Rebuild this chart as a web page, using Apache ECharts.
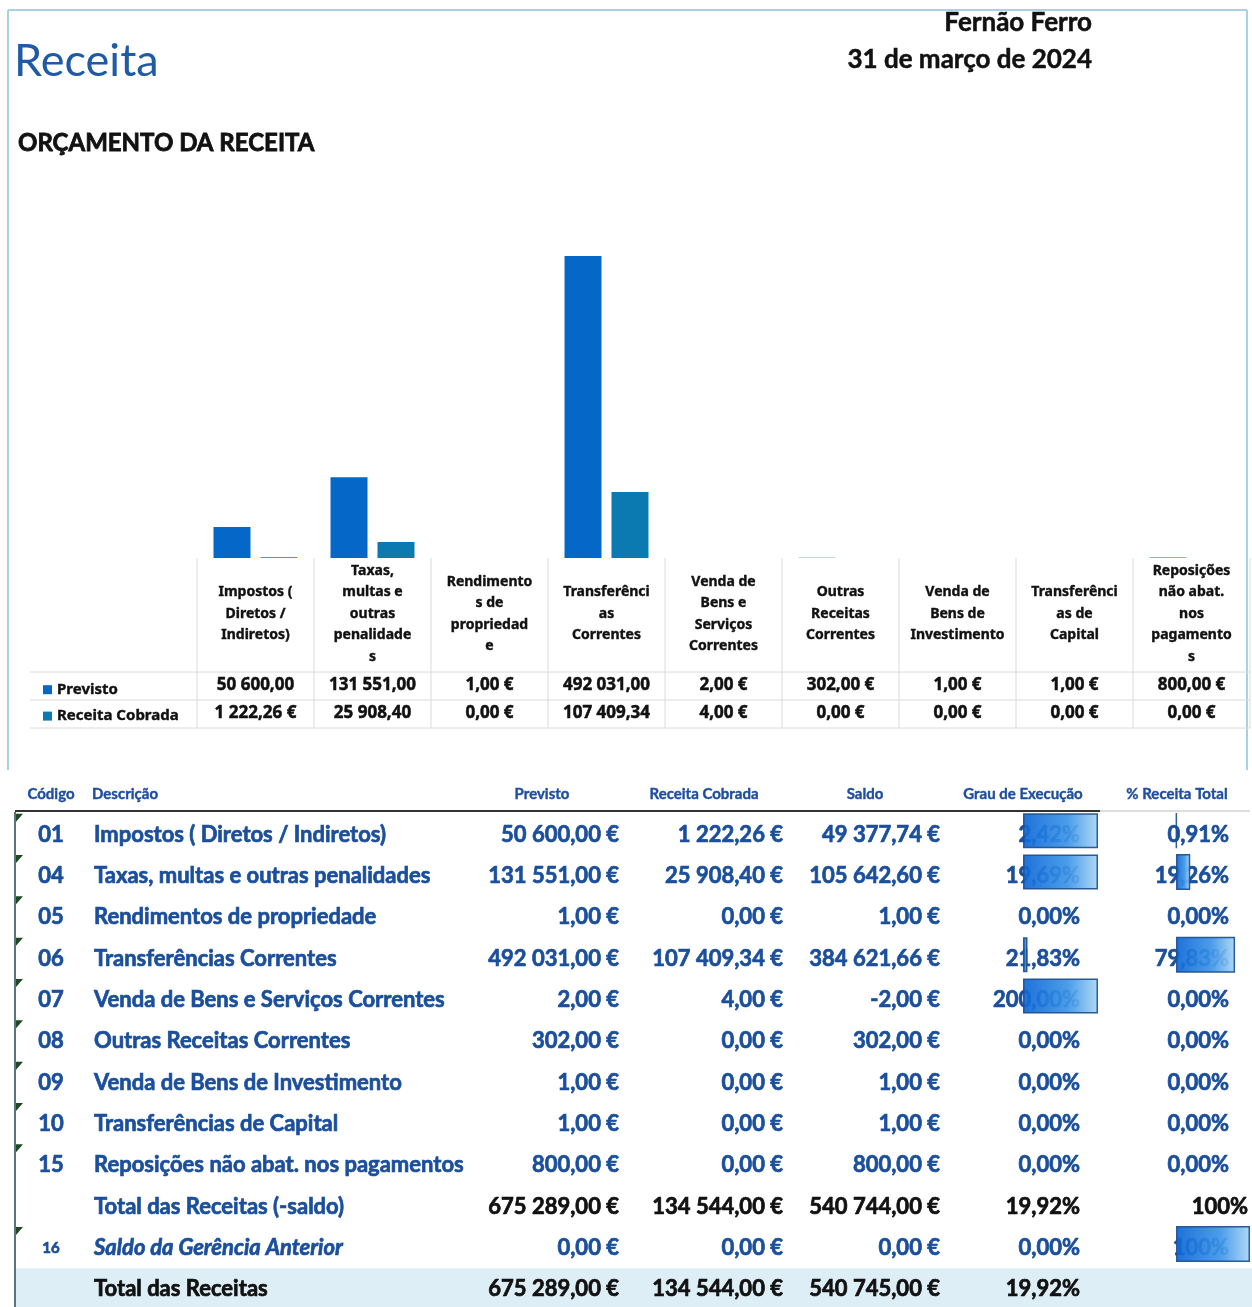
<!DOCTYPE html>
<html>
<head>
<meta charset="utf-8">
<title>Receita</title>
<script src="https://cdn.jsdelivr.net/npm/echarts@6/dist/echarts.min.js"></script>
<style>
  html, body { margin: 0; padding: 0; background: #fff; }
  #main { width: 1252px; height: 1307px; }
</style>
</head>
<body>
<div id="main"></div>
<script>
const categories = [
  "Impostos ( Diretos / Indiretos)",
  "Taxas, multas e outras penalidades",
  "Rendimentos de propriedade",
  "Transferências Correntes",
  "Venda de Bens e Serviços Correntes",
  "Outras Receitas Correntes",
  "Venda de Bens de Investimento",
  "Transferências de Capital",
  "Reposições não abat. nos pagamentos",
];
// how the category names wrap in the chart's data table
const categoryLabels = [
  "Impostos (\nDiretos /\nIndiretos)",
  "Taxas,\nmultas e\noutras\npenalidade\ns",
  "Rendimento\ns de\npropriedad\ne",
  "Transferênci\nas\nCorrentes",
  "Venda de\nBens e\nServiços\nCorrentes",
  "Outras\nReceitas\nCorrentes",
  "Venda de\nBens de\nInvestimento",
  "Transferênci\nas de\nCapital",
  "Reposições\nnão abat.\nnos\npagamento\ns",
];
const codes = ["01", "04", "05", "06", "07", "08", "09", "10", "15"];
const previsto = [50600, 131551, 1, 492031, 2, 302, 1, 1, 800];
const cobrada = [1222.26, 25908.4, 0, 107409.34, 4, 0, 0, 0, 0];
const saldo = [49377.74, 105642.6, 1, 384621.66, -2, 302, 1, 1, 800];
const grau = [2.42, 19.69, 0, 21.83, 200, 0, 0, 0, 0];
const pctTotal = [0.91, 19.26, 0, 79.83, 0, 0, 0, 0, 0];
// share of the "Grau de Execução" cell that the data bar fills, as seen in the picture
const grauBarFill = [1, 1, 0, 0.06, 1, 0, 0, 0, 0];

const totalLabels = ["Total das Receitas (-saldo)", "Saldo da Gerência Anterior", "Total das Receitas"];
const totalCodes = ["", "16", ""];
const totalPrevisto = [675289, 0, 675289];
const totalCobrada = [134544, 0, 134544];
const totalSaldo = [540744, 0, 540745];
const totalGrau = [19.92, 0, 19.92];
const totalPct = [100, 100, null];
const totalPctBar = [null, 100, null];

const columnHeaders = ["Código", "Descrição", "Previsto", "Receita Cobrada", "Saldo", "Grau de Execução", "% Receita Total"];

const chartFont = "Noto Sans";
const tableFont = "Lato";
const blue = "#1B4F9C";

function fmtNum(v) {
  const neg = v < 0;
  const parts = Math.abs(v).toFixed(2).split(".");
  const grouped = parts[0].replace(/\B(?=(\d{3})+(?!\d))/g, " ");
  return (neg ? "-" : "") + grouped + "," + parts[1];
}
const fmtEur = (v) => fmtNum(v) + " €";
// the chart's data table drops the € sign when the cell is too narrow
const fmtCell = (v) => (fmtEur(v).length > 10 ? fmtNum(v) : fmtEur(v));
const fmtPct = (v) => (v === 100 ? "100%" : v.toFixed(2).replace(".", ",") + "%");

// rows of the lower table
const rowKind = categories.map(() => "item").concat(["subtotal", "saldo", "total"]);
const rowCodes = codes.concat(totalCodes);
const rowDesc = categories.concat(totalLabels);
const rowPrevisto = previsto.concat(totalPrevisto);
const rowCobrada = cobrada.concat(totalCobrada);
const rowSaldo = saldo.concat(totalSaldo);
const rowGrau = grau.concat(totalGrau);
const rowPct = pctTotal.concat(totalPct);
const rowGrauBar = grauBarFill.map((v) => (v > 0 ? v : "-")).concat(["-", "-", "-"]);
const rowPctBar = pctTotal.map((v) => (v > 0 ? v : "-")).concat(totalPctBar.map((v) => (v == null ? "-" : v)));
const rowKeys = rowDesc.map((d, i) => String(i));

const myChart = echarts.init(document.getElementById("main"));

const valueAxis = (data, margin) => ({
  gridIndex: 0,
  type: "category",
  data: data,
  position: "bottom",
  axisLine: { show: false },
  axisTick: { show: false },
  axisLabel: {
    interval: 0,
    margin: margin,
    verticalAlign: "middle",
    fontFamily: chartFont,
    fontWeight: "bold",
    fontSize: 17,
    color: "#111",
    textBorderColor: "#111",
    textBorderWidth: 0.5,
  },
});

const barGradient = new echarts.graphic.LinearGradient(0, 0, 1, 0, [
  { offset: 0, color: "#0C66D6" },
  { offset: 0.6, color: "#3C95E8" },
  { offset: 1, color: "#A9D6F6" },
]);

const options = {
  animation: false,
  grid: [
    { left: 197, right: 2, top: 251, height: 307, outerBoundsMode: "none" },
    { left: 0, width: 1252, top: 814, height: 496, outerBoundsMode: "none" },
    { left: 1023, width: 75, top: 810, height: 496, outerBoundsMode: "none" },
    { left: 1176, width: 74, top: 810, height: 496, outerBoundsMode: "none" },
  ],
  legend: {
    data: ["Previsto", "Receita Cobrada"],
    orient: "vertical",
    left: 38,
    top: 677,
    icon: "rect",
    itemWidth: 9,
    itemHeight: 9,
    itemGap: 11,
    textStyle: {
      fontFamily: chartFont,
      fontWeight: "bold",
      fontSize: 15,
      color: "#111",
      textBorderColor: "#111",
      textBorderWidth: 0.4,
    },
  },
  xAxis: [
    { gridIndex: 0, type: "category", data: categories, show: false },
    {
      gridIndex: 0,
      type: "category",
      data: categoryLabels,
      position: "bottom",
      axisLine: { show: false },
      axisTick: { show: false },
      axisLabel: {
        interval: 0,
        margin: 56,
        verticalAlign: "middle",
        lineHeight: 21.5,
        fontFamily: chartFont,
        fontWeight: "bold",
        fontSize: 14,
        color: "#111",
        textBorderColor: "#111",
        textBorderWidth: 0.4,
      },
    },
    valueAxis(previsto.map(fmtCell), 127),
    valueAxis(cobrada.map(fmtCell), 155),
    { gridIndex: 1, type: "value", min: 0, max: 1252, show: false },
    { gridIndex: 2, type: "value", min: 0, max: 1, show: false },
    { gridIndex: 3, type: "value", min: 0, max: 100, show: false },
  ],
  yAxis: [
    { gridIndex: 0, type: "value", min: 0, max: 500000, show: false },
    { gridIndex: 1, type: "category", data: rowKeys, inverse: true, show: false },
    { gridIndex: 2, type: "category", data: rowKeys, inverse: true, show: false },
    { gridIndex: 3, type: "category", data: rowKeys, inverse: true, show: false },
  ],
  series: [
    {
      name: "Previsto",
      type: "bar",
      xAxisIndex: 0,
      yAxisIndex: 0,
      data: previsto,
      barWidth: 37,
      barGap: "27%",
      itemStyle: { color: "#0567C8" },
    },
    {
      name: "Receita Cobrada",
      type: "bar",
      xAxisIndex: 0,
      yAxisIndex: 0,
      data: cobrada,
      barWidth: 37,
      itemStyle: { color: "#0A7AB1" },
    },
    {
      // grid lines of the chart's data table
      type: "custom",
      xAxisIndex: 0,
      yAxisIndex: 0,
      silent: true,
      data: categories.map((c, i) => [i, 0]),
      renderItem: (params, api) => {
        const i = api.value(0);
        const c = api.coord([i, 0]);
        const w = api.size([1, 0])[0];
        const left = c[0] - w / 2;
        const top = c[1];
        const style = { stroke: "#DADADA", lineWidth: 1 };
        const children = [
          { type: "line", shape: { x1: left, y1: top, x2: left, y2: top + 170 }, style },
        ];
        const hx = i === 0 ? 30 : left;
        [114, 142, 170].forEach((dy) => {
          children.push({ type: "line", shape: { x1: hx, y1: top + dy, x2: left + w, y2: top + dy }, style });
        });
        if (i === categories.length - 1) {
          children.push({ type: "line", shape: { x1: left + w, y1: top, x2: left + w, y2: top + 170 }, style });
        }
        return { type: "group", children };
      },
    },
    {
      // lower table text
      type: "custom",
      xAxisIndex: 4,
      yAxisIndex: 1,
      silent: true,
      data: rowKeys.map((k, i) => [0, i]),
      renderItem: (params, api) => {
        const i = api.value(1);
        const kind = rowKind[i];
        const y = api.coord([0, i])[1];
        const x = (v) => api.coord([v, i])[0];
        const children = [];
        if (kind === "total") {
          children.push({
            type: "rect",
            shape: { x: x(16), y: y - 21, width: 1236, height: 42 },
            style: { fill: "#DDEEF6" },
          });
        }
        if (kind === "item" || kind === "saldo") {
          children.push({
            type: "polygon",
            shape: { points: [[x(16), y - 21], [x(23), y - 21], [x(16), y - 13]] },
            style: { fill: "#1E4A22" },
          });
        }
        const numColor = kind === "item" || kind === "saldo" ? blue : "#111";
        const descColor = kind === "total" ? "#111" : blue;
        const txt = (value, px, align, color, extra) => {
          children.push({
            type: "text",
            style: Object.assign(
              {
                text: value,
                x: x(px),
                y: y,
                align: align,
                verticalAlign: "middle",
                fill: color,
                stroke: color,
                lineWidth: 0.7,
                font: "bold 22px " + tableFont,
              },
              extra || {}
            ),
          });
        };
        if (rowCodes[i]) {
          txt(rowCodes[i], 51, "center", blue, kind === "saldo" ? { font: "bold 15px " + tableFont } : null);
        }
        txt(rowDesc[i], 94, "left", descColor, Object.assign(
          { width: 372, overflow: "truncate", ellipsis: "" },
          kind === "saldo" ? { font: "italic bold 22px " + tableFont } : {}
        ));
        txt(fmtEur(rowPrevisto[i]), 619, "right", numColor);
        txt(fmtEur(rowCobrada[i]), 783, "right", numColor);
        txt(fmtEur(rowSaldo[i]), 940, "right", numColor);
        txt(fmtPct(rowGrau[i]), 1080, "right", numColor);
        if (rowPct[i] != null) {
          txt(fmtPct(rowPct[i]), kind === "subtotal" ? 1248 : 1229, "right", numColor);
        }
        return { type: "group", children };
      },
    },
    {
      name: "Grau de Execução",
      type: "bar",
      xAxisIndex: 5,
      yAxisIndex: 2,
      data: rowGrauBar,
      barWidth: 35,
      silent: true,
      itemStyle: { color: barGradient, borderColor: "#1D4F8E", borderWidth: 1.5, opacity: 0.92 },
    },
    {
      name: "% Receita Total",
      type: "bar",
      xAxisIndex: 6,
      yAxisIndex: 3,
      data: rowPctBar,
      barWidth: 36,
      silent: true,
      itemStyle: { color: barGradient, borderColor: "#1D4F8E", borderWidth: 1.5, opacity: 0.92 },
    },
  ],
  graphic: [
    // page frame
    { type: "line", shape: { x1: 8, y1: 10, x2: 1247, y2: 10 }, style: { stroke: "#A9D0E4", lineWidth: 2 } },
    { type: "line", shape: { x1: 8, y1: 10, x2: 8, y2: 770 }, style: { stroke: "#A9D0E4", lineWidth: 2 } },
    { type: "line", shape: { x1: 1247, y1: 10, x2: 1247, y2: 770 }, style: { stroke: "#A9D0E4", lineWidth: 2 } },
    { type: "line", shape: { x1: 15, y1: 812, x2: 15, y2: 1307 }, style: { stroke: "#5A7183", lineWidth: 2 } },
    { type: "line", shape: { x1: 15, y1: 811, x2: 1100, y2: 811 }, style: { stroke: "#333", lineWidth: 2 } },
    { type: "line", shape: { x1: 1100, y1: 811, x2: 1250, y2: 811 }, style: { stroke: "#BBB", lineWidth: 1 } },
    {
      type: "text",
      left: 14,
      top: 39,
      style: { text: "Receita", font: "45px " + tableFont, fill: "#1F5AA6" },
    },
    {
      type: "text",
      x: 1092,
      y: 23,
      style: { text: "Fernão Ferro", font: "bold 26px " + tableFont, fill: "#111", stroke: "#111", lineWidth: 0.5, align: "right", verticalAlign: "middle" },
    },
    {
      type: "text",
      x: 1092,
      y: 60,
      style: { text: "31 de março de 2024", font: "bold 26px " + tableFont, fill: "#111", stroke: "#111", lineWidth: 0.5, align: "right", verticalAlign: "middle" },
    },
    {
      type: "text",
      x: 18,
      y: 143,
      style: { text: "ORÇAMENTO DA RECEITA", font: "bold 24px " + tableFont, fill: "#111", stroke: "#111", lineWidth: 0.8, verticalAlign: "middle" },
    },
  ].concat(
    columnHeaders.map((h, i) => ({
      type: "text",
      x: [51, 92, 542, 704, 865, 1023, 1177][i],
      y: 794,
      style: {
        text: h,
        font: "bold 15px " + tableFont,
        fill: "#1F4E9E",
        stroke: "#1F4E9E",
        lineWidth: 0.4,
        align: i === 1 ? "left" : "center",
        verticalAlign: "middle",
      },
    }))
  ),
};

myChart.setOption(options);
</script>
</body>
</html>
